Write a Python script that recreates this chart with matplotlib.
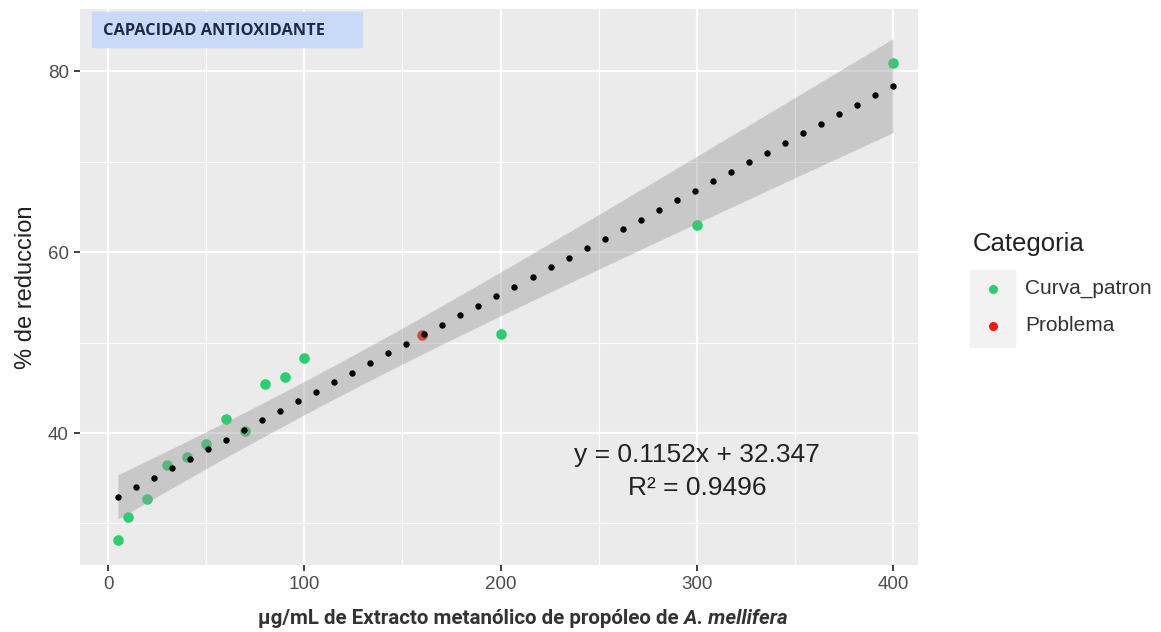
import numpy as np
import matplotlib
matplotlib.use("Agg")
import matplotlib.pyplot as plt
from matplotlib.patches import Rectangle
from matplotlib.ticker import MultipleLocator

# Data
conc = [5, 10, 20, 30, 40, 50, 60, 70, 80, 90, 100, 200, 300, 400]
reduccion = [28.2, 30.7, 32.7, 36.5, 37.3, 38.8, 41.5, 40.2, 45.4, 46.2, 48.3, 50.9, 63.0, 80.9]
prob_x = [160]
prob_y = [50.8]
slope = 0.1152
intercept = 32.347
r2 = 0.9496
t975 = 2.179  # t quantile, df = 12
n_dots = 44   # dots drawn along the dotted fit line

x = np.array(conc, float)
y = np.array(reduccion, float)
n = len(x)
resid = y - (slope * x + intercept)
s = np.sqrt(np.sum(resid ** 2) / (n - 2))
xs = np.linspace(x.min(), x.max(), 200)
fit = slope * xs + intercept
half = t975 * s * np.sqrt(1 / n + (xs - x.mean()) ** 2 / np.sum((x - x.mean()) ** 2))
xd = np.linspace(x.min(), x.max(), n_dots)

plt.rcParams["font.family"] = ["Liberation Sans", "DejaVu Sans"]
fig = plt.figure(figsize=(11.61, 6.32), dpi=100)
ax = fig.add_axes([80 / 1161, 67 / 632, 838 / 1161, 556 / 632])
ax.set_facecolor("#EBEBEB")
for sp in ax.spines.values():
    sp.set_visible(False)

ax.xaxis.set_major_locator(MultipleLocator(100))
ax.xaxis.set_minor_locator(MultipleLocator(50))
ax.yaxis.set_major_locator(MultipleLocator(20))
ax.yaxis.set_minor_locator(MultipleLocator(10))
ax.grid(which="major", color="white", lw=1.6)
ax.grid(which="minor", color="white", lw=0.8)
ax.set_axisbelow(True)
ax.tick_params(which="minor", length=0)
ax.tick_params(which="major", length=4.5, width=1.3, color="#333333",
               labelcolor="#4D4D4D", labelsize=13.5, pad=3.5)

g = ax.scatter(conc, reduccion, s=58, color="#2ECC71", lw=0, zorder=2, label="Curva_patron")
r = ax.scatter(prob_x, prob_y, s=58, color="#F21B0A", lw=0, zorder=2, label="Problema")
# smoother drawn on top of the points, like geom_smooth
ax.fill_between(xs, fit - half * 0.97, fit + half * 0.97, color="#999999", alpha=0.42, lw=0, zorder=3)
ax.plot(xd, slope * xd + intercept, "o", color="black", ms=4.6, mew=0, zorder=4)

ax.set_xlim(-14.3, 412.7)
ax.set_ylim(25.4, 86.9)

ax.set_ylabel("% de reduccion", fontsize=17, labelpad=8, color="#222222")

ax.text(300, 37.6, f"y = {slope}x + {intercept}", fontsize=19, ha="center", va="center", color="#222222")
ax.text(300, 33.9, f"R² = {r2}", fontsize=19, ha="center", va="center", color="#222222")

# x label, bold with italic species name
t1 = fig.text(258 / 1161, 8 / 632, "µg/mL de Extracto metanólico de propóleo de",
              fontsize=14.8, fontweight="bold", family="Roboto", color="#333333")
ax.annotate(" A. mellifera", xy=(1, 0), xycoords=t1, va="bottom", ha="left",
            fontsize=14.8, fontweight="bold", style="italic", family="Roboto", color="#333333")

# title box
fig.patches.append(Rectangle((92 / 1161, 1 - 47 / 632), 270 / 1161, 35 / 632,
                             transform=fig.transFigure, color="#C9DAF8", zorder=5))
fig.text(103 / 1161, 1 - 31 / 632, "CAPACIDAD ANTIOXIDANTE", fontsize=11.8,
         fontweight="bold", family="Open Sans", color="#1F2A44", va="center", zorder=6)

# legend
fig.patches.append(Rectangle((970 / 1161, 1 - 347 / 632), 45 / 1161, 77 / 632,
                             transform=fig.transFigure, color="#F2F2F2", zorder=1))
fig.text(973 / 1161, 1 - 244 / 632, "Categoria", fontsize=18.5, va="center", color="#222222")
leg = fig.legend(handles=[g, r], loc="upper left", bbox_to_anchor=(980 / 1161, 1 - 279 / 632),
                 frameon=False, fontsize=15, handletextpad=0.96, labelspacing=0.87,
                 borderpad=0, borderaxespad=0, markerscale=0.85, handlelength=1.2)
for t in leg.get_texts():
    t.set_color("#333333")

fig.savefig("out.png", dpi=100)
